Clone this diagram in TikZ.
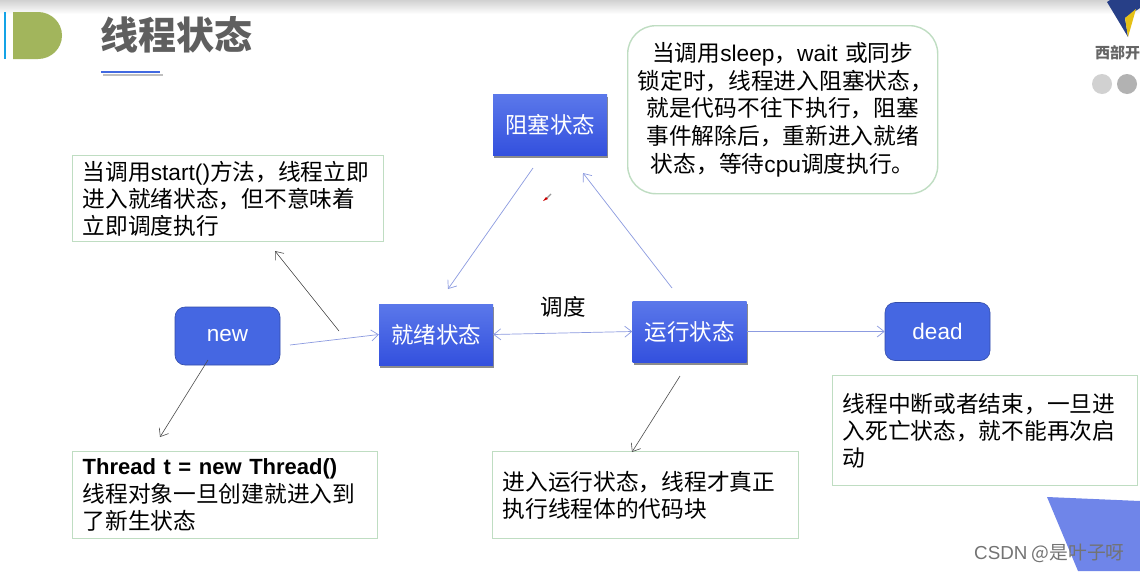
\documentclass[tikz,border=0pt]{standalone}
\usepackage{fontspec}
\setmainfont{Noto Sans CJK SC}
\newfontfamily\latinfont{Liberation Sans}
\usepackage[dvipsnames,svgnames,x11names]{xcolor}
\usetikzlibrary{backgrounds, calc, positioning, shadows}
\usetikzlibrary{arrows, arrows.meta}
\definecolor{notegreen}{HTML}{BFDDC2}
\definecolor{linkblue}{HTML}{8C9BE0}
\definecolor{headgray}{HTML}{5F5F5F}
\definecolor{statetop}{HTML}{5B78EA}
\definecolor{statebottom}{HTML}{3350DE}
\definecolor{endblue}{HTML}{4567E2}
\definecolor{badgegreen}{HTML}{A2B55C}
\definecolor{cornerblue}{HTML}{6F85E9}
\newcommand{\la}[1]{{\latinfont #1}}
\tikzset{
  statebox/.style={minimum width=114pt, minimum height=61pt, inner sep=0pt, text=white, font=\fontsize{22.5}{27}\selectfont,
    top color=statetop, bottom color=statebottom, draw=none, drop shadow={shadow xshift=1pt, shadow yshift=-2.5pt, fill=black, opacity=.45}},
  endbox/.style={rounded corners=10pt, minimum width=105pt, minimum height=58pt, inner sep=0pt, text=white, font=\fontsize{22.5}{27}\selectfont,
    fill=endblue, draw=endblue!75!black, line width=.6pt},
  notebox/.style={draw=notegreen, line width=1.4pt, fill=white, anchor=north west, inner ysep=0pt, inner xsep=10pt, align=left, text=black,
    font=\fontsize{22.7}{27.3}\selectfont},
  link/.style={draw=linkblue, line width=.7pt, -{Straight Barb[length=7pt,width=11pt]}},
  tiplink/.style={draw=black!70, line width=.6pt, -{Straight Barb[length=7pt,width=11pt]}}
}
\begin{document}
\begin{tikzpicture}[x=1pt, y=-1pt]
    \useasboundingbox (0,0) rectangle (1140,571);
    \clip (0,0) rectangle (1140,571);
    \fill[white] (0,0) rectangle (1140,571);
    \shade[top color=black!18, bottom color=white] (0,0) rectangle (1140,14);

    % title bar
    \fill[Cerulean] (4,12) rectangle (6,59);
    \fill[badgegreen] (13,12) -- (38,12) arc (-90:90:24 and 23.5) -- (13,59) -- cycle;
    \node[text=headgray, font=\fontsize{38}{38}\bfseries\selectfont] (title) at (176,35) {线程状态};
    \fill[black!25] (103,74) rectangle (163,76);
    \fill[RoyalBlue] (101,71) rectangle (160,73);

    % logo
    \fill[RoyalBlue!60!black] (1107,2) -- (1128,37) -- (1125,18) -- (1140,8) -- (1140,0) -- (1110,0) -- cycle;
    \fill[Goldenrod!70!yellow] (1128,37) -- (1125,18) -- (1136,9) -- cycle;
    \node[text=black!60, anchor=west, inner sep=0pt, font=\fontsize{15}{15}\bfseries\selectfont] (logotext) at (1095,53) {西部开};
    \fill[black!18] (1102,84) circle (10);
    \fill[black!30] (1127,84) circle (10);

    % corner
    \fill[cornerblue] (1047,497) -- (1140,501) -- (1140,571) -- (1078,571) -- cycle;

    % states
    \node[statebox] (blocked) at (550,125) {阻塞状态};
    \node[statebox] (ready) at (436,334.5) {就绪状态};
    \node[statebox] (running) at (689.5,331.5) {运行状态};
    \node[endbox] (new) at (227.5,336) {\la{new}};
    \node[endbox] (dead) at (937.5,331.5) {\la{dead}};
    \node[font=\fontsize{22.5}{27}\selectfont] (sched) at (563,307) {调度};

    % notes
    \node[notebox, minimum width=311pt, minimum height=86pt, text width=291pt] (startnote) at (72,155) {当调用\la{start()}方法，线程立即\\进入就绪状态，但不意味着\\立即调度执行};
    \node[notebox, minimum width=305pt, minimum height=87pt, text width=285pt] (threadnote) at (72,451) {{\latinfont\bfseries\fontsize{22}{27.3}\selectfont Thread t = new Thread()}\\线程对象一旦创建就进入到\\了新生状态};
    \node[notebox, minimum width=306pt, minimum height=87pt, text width=286pt] (runnote) at (492,451) {进入运行状态，线程才真正\\执行线程体的代码块};
    \node[notebox, minimum width=305pt, minimum height=110pt, text width=285pt] (deadnote) at (832,375) {线程中断或者结束，一旦进\\入死亡状态，就不能再次启\\动};
    \node[notebox, rounded corners=28pt, minimum width=310pt, minimum height=168pt, text width=290pt, align=center, font=\fontsize{22.7}{27.6}\selectfont] (sleepnote) at (627,25) {当调用\la{sleep}，\la{wait} 或同步\\锁定时，线程进入阻塞状态，\\就是代码不往下执行，阻塞\\事件解除后，重新进入就绪\\状态，等待\la{cpu}调度执行。};

    % free ends
    \coordinate (newout) at (290,345);
    \coordinate (blockout) at (533,168);
    \coordinate (readyin) at (448,289);
    \coordinate (runout) at (672,288);
    \coordinate (blockin) at (583,173);
    \coordinate (starta) at (339,331);
    \coordinate (startb) at (275,251);
    \coordinate (newa) at (208,360);
    \coordinate (newb) at (160,437);
    \coordinate (runa) at (680,376);
    \coordinate (runb) at (632,452);

    \draw[link] (newout) -- (ready.west);
    \draw[link, {Straight Barb[length=7pt,width=11pt]}-{Straight Barb[length=7pt,width=11pt]}] (ready.east) -- (running.west);
    \draw[link] (running.east) -- (dead.west);
    \draw[link] (blockout) -- (readyin);
    \draw[link] (runout) -- (blockin);
    \draw[tiplink] (starta) -- (startb);
    \draw[tiplink] (newa) -- (newb);
    \draw[tiplink] (runa) -- (runb);

    % pen mark
    \fill[Red3] (543,201) -- (546,197) -- (548,199) -- cycle;
    \draw[black!40, line width=1.2pt] (547,198) -- (551,194);

    % watermark
    \node[text=black!55, anchor=west, inner sep=0pt, font=\fontsize{18.8}{18.8}\selectfont] (mark) at (974,553) {\la{CSDN} @是叶子呀};
\end{tikzpicture}
\end{document}
